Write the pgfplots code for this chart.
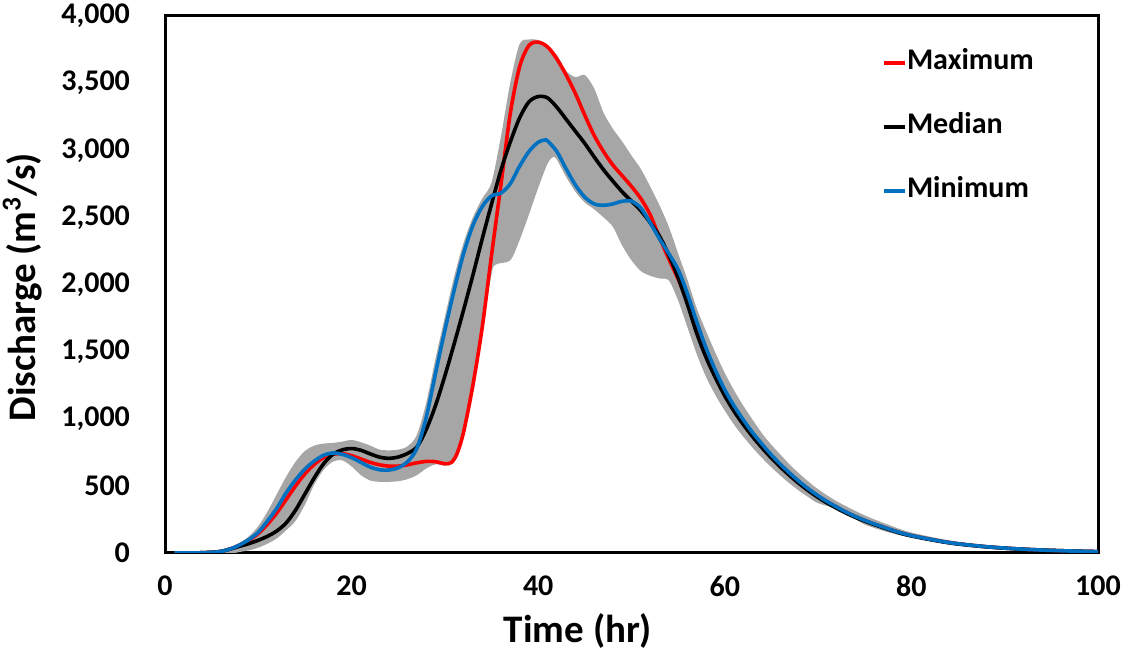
\documentclass[border=0pt]{standalone}
\usepackage{fontspec}
\setmainfont{Carlito}
\usepackage{pgfplots}
\pgfplotsset{compat=1.18}
\usepackage{pgfplotstable}
\usepgfplotslibrary{fillbetween}
\definecolor{bandgray}{HTML}{A6A6A6}
\definecolor{minblue}{HTML}{0070C0}
\definecolor{maxred}{HTML}{FF0000}

\pgfplotstableread{
t v
1 0
3 0
5 5
6 12
7 30
8 50
9 70
10 95
11 125
12 165
13 225
14 320
15 440
16 560
17 665
18 735
19 768
20 778
21 765
22 738
23 714
24 705
25 715
26 742
27 790
28 920
29 1100
30 1320
31 1560
32 1810
33 2070
34 2340
35 2600
36 2850
37 3060
38 3240
39 3360
40 3400
41 3390
42 3320
43 3230
44 3140
45 3050
46 2950
47 2855
48 2770
49 2690
50 2620
51 2550
52 2460
53 2360
54 2220
55 2050
56 1850
57 1635
58 1455
59 1305
60 1170
61 1055
62 955
63 865
64 783
65 707
66 638
67 574
68 515
69 462
70 414
71 371
73 297
75 237
78 165
80 127
84 76
88 46
92 28
96 17
100 10
}\tabmed

\pgfplotstableread{
t v
1 0
3 0
5 5
6 12
7 30
8 60
9 95
10 145
11 215
12 300
13 400
14 500
15 590
16 660
17 710
18 735
19 740
20 725
21 700
22 675
23 657
24 647
25 647
26 657
27 672
28 682
29 680
30 665
30.7 675
31.3 740
32 900
33 1250
34 1680
35 2220
36 2740
37 3270
38 3620
39 3780
40 3805
41 3770
42 3680
43 3560
44 3420
45 3260
46 3110
47 2990
48 2890
49 2810
50 2730
51 2640
52 2520
53 2350
54 2190
55 2040
56 1870
57 1660
58 1480
59 1330
60 1195
61 1078
62 976
63 884
64 800
65 722
66 652
67 587
68 527
69 473
70 424
71 380
73 304
75 242
78 169
80 130
84 78
88 47
92 28
96 17
100 10
}\tabmax

\pgfplotstableread{
t v
1 0
3 0
5 5
6 12
7 30
8 60
9 100
10 155
11 240
12 335
13 450
14 545
15 625
16 685
17 728
18 745
19 735
20 710
21 675
22 640
23 620
24 618
25 635
26 680
27 780
28 1010
29 1340
30 1660
31 1960
32 2230
33 2440
34 2580
35 2660
36 2680
37 2750
38 2880
39 2990
40 3060
40.7 3076
41 3070
42 2990
43 2860
44 2740
45 2650
46 2600
47 2590
48 2600
49 2620
50 2620
51 2570
52 2460
53 2340
54 2230
55 2110
56 1930
57 1720
58 1525
59 1360
60 1215
61 1095
62 990
63 895
64 810
65 730
66 658
67 592
68 531
69 476
70 426
71 382
73 305
75 243
78 169
80 130
84 78
88 47
92 28
96 17
100 10
}\tabmin

\pgfplotstableread{
t v
1 0
5 10
7 40
8 75
9 125
10 200
11 310
12 440
13 570
14 680
15 760
16 800
17 815
18 820
19 830
20 842
21 825
22 800
23 770
24 765
25 770
26 795
27 880
28 1120
29 1450
30 1760
31 2060
32 2310
33 2500
34 2640
35 2760
36 3100
37 3500
38 3790
39 3825
40 3820
41 3780
42 3710
43 3590
44 3545
45 3560
46 3460
47 3280
48 3160
49 3065
50 2960
51 2860
52 2730
53 2590
54 2430
55 2230
56 2034
57 1820
58 1650
59 1490
60 1340
61 1210
62 1095
63 990
64 890
65 805
66 730
67 655
68 590
69 530
70 475
72 385
75 280
78 198
80 152
84 95
88 57
92 34
96 20
100 12
}\tabbandup

\pgfplotstableread{
t v
1 0
7 0
8 8
9 20
10 40
11 70
12 110
13 170
14 240
15 360
16 510
17 620
18 680
19 690
20 645
21 580
22 540
23 530
24 530
25 535
26 550
27 580
28 630
29 660
30 650
30.7 660
31.3 720
32 880
33 1230
34 1650
35 2080
35.5 2150
37 2180
38 2330
39 2520
40 2720
41 2900
41.6 2950
42 2930
43 2800
44 2690
45 2610
46 2560
47 2500
48 2430
49 2290
50 2180
51 2100
52 2065
53 2045
54 2030
55 1880
56 1680
57 1480
58 1310
59 1175
60 1060
61 955
62 865
63 783
64 707
65 638
66 574
67 515
68 462
69 414
70 371
72 330
73 297
75 212
78 145
80 115
84 68
88 40
92 24
96 14
100 8
}\tabbandlo

\begin{document}
\begin{tikzpicture}
\begin{axis}[
  at={(0pt,0pt)}, anchor=south west,
  scale only axis,
  width=466.5pt, height=268.5pt,
  xmin=0, xmax=100, ymin=0, ymax=4000,
  xtick={0,20,40,60,80,100},
  ytick={0,500,1000,1500,2000,2500,3000,3500,4000},
  scaled y ticks=false,
  major tick length=0pt,
  axis line style={line width=1.5pt, black},
  /pgf/number format/1000 sep={,},
  /pgf/number format/assume math mode=true,
  tick label style={font=\fontsize{15}{18}\selectfont\bfseries},
  yticklabel style={xshift=-14pt},
  xticklabel style={yshift=-8pt},
  xlabel={Time (hr)},
  ylabel={Discharge (m\textsuperscript{3}/s)},
  label style={font=\fontsize{19.5}{23}\selectfont\bfseries},
  xlabel style={at={(axis description cs:0.4427,-0.145)}, anchor=center},
  ylabel style={at={(axis description cs:-0.1527,0.495)}, anchor=center},
  legend style={draw=none, fill=none, at={(0.7685,0.9375)}, anchor=north west,
    font=\fontsize{15}{18}\selectfont\bfseries,
    row sep=19pt, inner sep=0pt,
    nodes={text height=10pt, text depth=3pt, inner sep=0pt, anchor=west}},
  legend cell align=left,
  legend image code/.code={\draw[#1] (0pt,0pt) -- (10.5pt,0pt);},
]
\addplot[name path=up, draw=none, forget plot, smooth] table[x=t,y=v] {\tabbandup};
\addplot[name path=lo, draw=none, forget plot, smooth] table[x=t,y=v] {\tabbandlo};
\addplot[bandgray, forget plot] fill between[of=up and lo];
\addplot[maxred, line width=1.8pt, smooth] table[x=t,y=v] {\tabmax};
\addlegendentry{Maximum}
\addplot[black, line width=1.8pt, smooth] table[x=t,y=v] {\tabmed};
\addlegendentry{Median}
\addplot[minblue, line width=1.8pt, smooth] table[x=t,y=v] {\tabmin};
\addlegendentry{Minimum}
\end{axis}
\pgfresetboundingbox
\path[use as bounding box] (-82.5pt,-52pt) rectangle (479.5pt,276.5pt);
\end{tikzpicture}
\end{document}
